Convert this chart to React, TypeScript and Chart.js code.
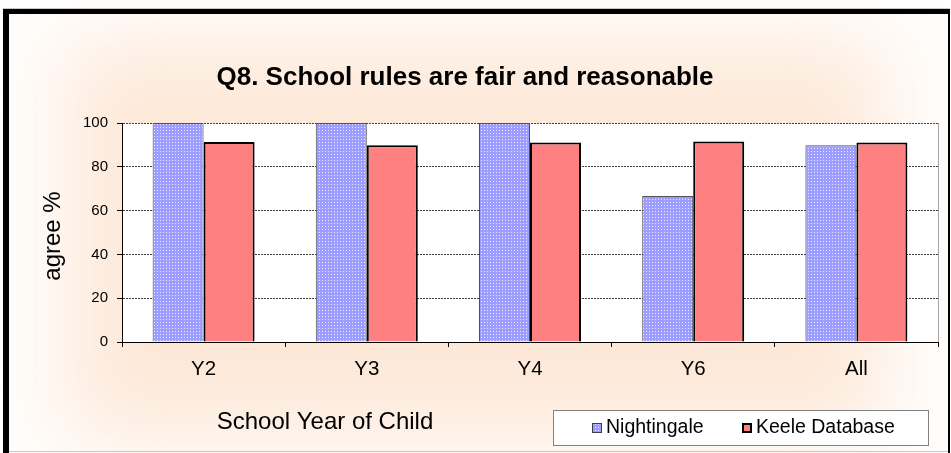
import React, { useEffect, useRef } from "react";
import { Chart, registerables } from "chart.js";

Chart.register(...registerables);

const categories = ["Y2", "Y3", "Y4", "Y6", "All"];
const nightingale = [100, 100, 100, 66.7, 89.8];
const keele = [91.3, 89.8, 91.1, 91.6, 91.1];
const seriesNames = ["Nightingale", "Keele Database"];
const yMin = 0;
const yMax = 100;
const yStep = 20;
const titleText = "Q8. School rules are fair and reasonable";
const yTitle = "agree %";
const xTitle = "School Year of Child";

const FONT = '"Liberation Sans", Arial, sans-serif';
const W = 951;
const H = 453;

function makePattern(ctx: CanvasRenderingContext2D) {
  const c = document.createElement("canvas");
  c.width = 3;
  c.height = 3;
  const p = c.getContext("2d")!;
  p.fillStyle = "#9D9DFF";
  p.fillRect(0, 0, 3, 3);
  p.fillStyle = "#E8E8FF";
  p.fillRect(1, 1, 1, 1);
  return ctx.createPattern(c, "repeat")!;
}

export default function App() {
  const ref = useRef<HTMLCanvasElement | null>(null);

  useEffect(() => {
    const canvas = ref.current!;
    const ctx0 = canvas.getContext("2d")!;
    const pattern = makePattern(ctx0);

    const bgPlugin = {
      id: "bg",
      beforeDraw(chart: any) {
        const { ctx, chartArea: a } = chart;
        ctx.save();
        ctx.fillStyle = "#FFFFFF";
        ctx.fillRect(0, 0, W, H);
        ctx.fillStyle = "#FFFDFB";
        ctx.fillRect(9, 14, 939, 437);
        ctx.filter = "blur(40px)";
        ctx.fillStyle = "#FDE8D8";
        ctx.fillRect(70, 45, 810, 390);
        ctx.filter = "none";
        // frame
        ctx.fillStyle = "#C8C8C8";
        ctx.fillRect(3, 8, 947, 1);
        ctx.fillRect(9, 451, 939, 1);
        ctx.fillStyle = "#000000";
        ctx.fillRect(3, 9, 6, H - 9);
        ctx.fillRect(3, 9, 947, 5);
        ctx.fillRect(948, 9, 2, H - 9);
        // plot background
        ctx.fillStyle = "#FFFFFF";
        ctx.fillRect(a.left, a.top, a.right - a.left, a.bottom - a.top);
        ctx.restore();
      },
      afterDraw(chart: any) {
        const { ctx, chartArea: a } = chart;
        ctx.save();
        // plot right border
        ctx.strokeStyle = "#A8A8A8";
        ctx.lineWidth = 1;
        ctx.beginPath();
        ctx.moveTo(a.right + 0.5, a.top);
        ctx.lineTo(a.right + 0.5, a.bottom);
        ctx.stroke();

        ctx.fillStyle = "#000";
        // title
        ctx.font = `bold 26px ${FONT}`;
        ctx.textAlign = "center";
        ctx.textBaseline = "alphabetic";
        ctx.fillText(titleText, 465, 85);

        // x title
        ctx.font = `24px ${FONT}`;
        ctx.fillText(xTitle, 325, 429);

        // y title
        ctx.save();
        ctx.translate(60, 236);
        ctx.rotate(-Math.PI / 2);
        ctx.font = `24px ${FONT}`;
        ctx.textAlign = "center";
        ctx.fillText(yTitle, 0, 0);
        ctx.restore();

        // legend
        ctx.fillStyle = "#FFFFFF";
        ctx.fillRect(553, 410, 375, 35);
        ctx.strokeStyle = "#808080";
        ctx.lineWidth = 1;
        ctx.strokeRect(553.5, 410.5, 375, 35);

        ctx.fillStyle = pattern;
        ctx.fillRect(592, 423, 10, 10);
        ctx.strokeStyle = "#404040";
        ctx.strokeRect(592.5, 423.5, 9, 9);

        ctx.fillStyle = "#FF8080";
        ctx.fillRect(742, 423, 10, 10);
        ctx.strokeStyle = "#000";
        ctx.lineWidth = 2;
        ctx.strokeRect(743, 424, 8, 8);

        ctx.fillStyle = "#000";
        ctx.font = `19.5px ${FONT}`;
        ctx.textAlign = "left";
        ctx.fillText(seriesNames[0], 606, 433);
        ctx.fillText(seriesNames[1], 756, 433);
        ctx.restore();
      },
    };

    const chart = new Chart(canvas, {
      type: "bar",
      data: {
        labels: categories,
        datasets: [
          {
            label: seriesNames[0],
            data: nightingale,
            backgroundColor: pattern as any,
            borderColor: "#505050",
            borderWidth: 1,
            categoryPercentage: 0.625,
            barPercentage: 1,
          },
          {
            label: seriesNames[1],
            data: keele,
            backgroundColor: "#FF8080",
            borderColor: "#000000",
            borderWidth: 2,
            categoryPercentage: 0.625,
            barPercentage: 1,
          },
        ],
      },
      options: {
        responsive: false,
        animation: false,
        devicePixelRatio: 1,
        layout: { padding: { top: 123, right: 13, left: 0, bottom: 0 } },
        plugins: {
          legend: { display: false },
          title: { display: false },
          tooltip: { enabled: false },
        },
        scales: {
          x: {
            afterFit: (s: any) => {
              s.height = 111;
            },
            grid: {
              offset: true,
              drawOnChartArea: false,
              drawTicks: true,
              tickLength: 5,
              tickColor: "#000",
              tickWidth: 1,
            },
            border: { display: true, color: "#000", width: 1 },
            ticks: {
              color: "#000",
              font: { family: FONT, size: 20.5 },
              padding: 10,
            },
          },
          y: {
            min: yMin,
            max: yMax,
            afterFit: (s: any) => {
              s.width = 122;
            },
            grid: {
              color: "#404040",
              lineWidth: 1,
              drawTicks: true,
              tickLength: 5,
              tickColor: "#000",
              tickBorderDash: [],
            },
            border: { display: true, color: "#000", width: 1, dash: [2, 1] },
            ticks: {
              stepSize: yStep,
              color: "#000",
              font: { family: FONT, size: 15 },
              padding: 9,
            },
          },
        },
      },
      plugins: [bgPlugin],
    });

    return () => chart.destroy();
  }, []);

  return (
    <div style={{ position: "fixed", left: 0, top: 0, width: W, height: H }}>
      <canvas ref={ref} width={W} height={H} style={{ width: W, height: H, display: "block" }} />
    </div>
  );
}
